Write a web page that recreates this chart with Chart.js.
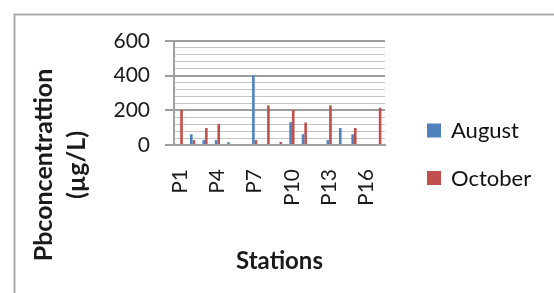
<!DOCTYPE html>
<html>
<head>
<meta charset="utf-8">
<script src="https://cdn.jsdelivr.net/npm/chart.js@4.4.1/dist/chart.umd.min.js"></script>
<style>
  body { margin: 0; background: #fff; }
  #wrap { width: 554px; height: 293px; }
</style>
</head>
<body>
<div id="wrap"><canvas id="chPb" width="554" height="293"></canvas></div>
<script>
// data
const stations = ['P1', 'P2', 'P3', 'P4', 'P5', 'P6', 'P7', 'P8', 'P9', 'P10', 'P11', 'P12', 'P13', 'P14', 'P15', 'P16', 'P17'];
const august = [0, 62, 28, 28, 16, 0, 402, 0, 0, 132, 62, 0, 28, 98, 62, 0, 0];
const october = [202, 28, 98, 122, 0, 0, 28, 228, 17, 202, 130, 0, 228, 0, 98, 0, 215];
const seriesNames = ['August', 'October'];
const seriesColors = ['#4f81bd', '#c0504d'];
const yTickLabels = [0, 200, 400, 600];
const yTitle = ['Pbconcentrattion', '(µg/L)'];
const xTitle = 'Stations';

const FONT = 'Lato, Carlito, Calibri, sans-serif';
Chart.defaults.font.family = FONT;
Chart.defaults.color = '#1a1a1a';

// frame, the two-line y title (centred lower than the plot) and the legend on the right
const framePlugin = {
    id: 'frame',
    beforeDraw(chart) {
        const ctx = chart.ctx;
        ctx.save();
        ctx.fillStyle = '#fff';
        ctx.fillRect(0, 0, chart.width, chart.height);
        ctx.strokeStyle = '#ababab';
        ctx.lineWidth = 2;
        ctx.strokeRect(14.5, 14.5, 700, 500);
        ctx.restore();
    },
    afterDraw(chart) {
        const ctx = chart.ctx;
        ctx.save();
        ctx.translate(0, 165);
        ctx.rotate(-Math.PI / 2);
        ctx.fillStyle = '#1a1a1a';
        ctx.font = 'bold 25px ' + FONT;
        ctx.textAlign = 'center';
        ctx.textBaseline = 'alphabetic';
        ctx.fillText(yTitle[0], 0, 52);
        ctx.fillText(yTitle[1], 0, 85);
        ctx.restore();

        // legend
        ctx.save();
        ctx.font = '22px ' + FONT;
        ctx.textBaseline = 'alphabetic';
        ctx.textAlign = 'left';
        chart.data.datasets.forEach((ds, i) => {
            const y = 123.5 + i * 47.5;
            ctx.fillStyle = ds.backgroundColor;
            ctx.fillRect(427, y, 14, 14);
            ctx.fillStyle = '#111';
            ctx.fillText(ds.label, 451, y + 14.5);
        });
        ctx.restore();
    }
};

const ctx = document.getElementById('chPb').getContext('2d');
new Chart(ctx, {
    type: 'bar',
    data: {
        labels: stations,
        datasets: [
            { label: seriesNames[0], data: august, backgroundColor: seriesColors[0] },
            { label: seriesNames[1], data: october, backgroundColor: seriesColors[1] }
        ]
    },
    options: {
        responsive: false,
        devicePixelRatio: 1,
        animation: false,
        categoryPercentage: 0.42,
        barPercentage: 1.0,
        layout: { padding: { top: 41, bottom: 25, left: 0, right: 169 } },
        plugins: {
            tooltip: { enabled: false },
            legend: { display: false }
        },
        scales: {
            x: {
                grid: { display: false, drawTicks: false },
                border: { color: '#a0a0a0', width: 2 },
                ticks: {
                    autoSkip: false, maxRotation: 90, minRotation: 90, padding: 24,
                    font: { size: 21 },
                    callback: (v, i) => i % 3 === 0 ? stations[i] : ''
                },
                title: { display: true, text: xTitle, font: { size: 24, weight: 'bold' }, padding: { top: 0, bottom: -8 } },
                afterFit: s => { s.height = 123; }
            },
            y: {
                min: 0,
                max: 600,
                ticks: {
                    stepSize: 40, autoSkip: false, padding: 15,
                    font: { size: 21 },
                    callback: v => yTickLabels.includes(v) ? v : ''
                },
                grid: {
                    color: c => c.tick && c.tick.value % 200 === 0 ? '#9e9e9e' : '#c4c4c4',
                    lineWidth: c => c.tick && c.tick.value % 200 === 0 ? 2 : 1,
                    tickColor: c => c.tick && c.tick.value % 200 === 0 ? '#9e9e9e' : 'rgba(0,0,0,0)',
                    tickLength: 9
                },
                border: { color: '#a0a0a0', width: 2 },
                afterFit: s => { s.width = 174; }
            }
        }
    },
    plugins: [framePlugin]
});
</script>
</body>
</html>
